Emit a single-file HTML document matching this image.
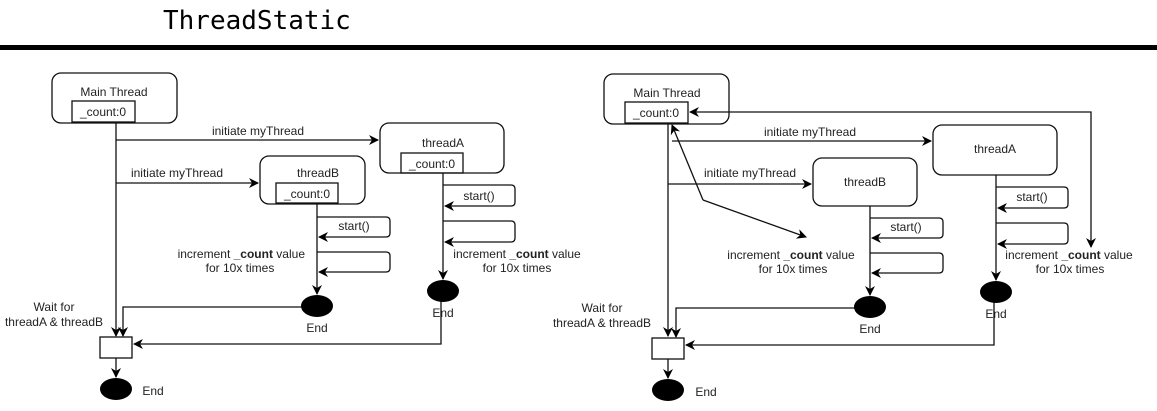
<!DOCTYPE html>
<html><head><meta charset="utf-8"><style>
body{margin:0;background:#fff;width:1157px;height:411px;overflow:hidden}
svg{display:block}
text{font-family:"Liberation Sans",sans-serif;font-size:12px;fill:#222}
</style></head><body>
<svg width="1157" height="411" viewBox="0 0 1157 411">
<defs>
<marker id="a" markerWidth="10" markerHeight="10" refX="9" refY="5" orient="auto-start-reverse" markerUnits="userSpaceOnUse">
<path d="M0,0 L10,5 L0,10 L3,5 z" fill="#000"/></marker>
</defs>
<text x="163" y="29" style="font-family:'DejaVu Sans Mono','Liberation Mono',monospace;font-size:26px;fill:#000">ThreadStatic</text>
<rect x="0" y="45" width="1157" height="5" fill="#000"/>

<g id="L" stroke="#111" stroke-width="1.3" fill="none">
<rect x="52" y="73" width="125" height="50" rx="9"/>
<rect x="72" y="101" width="63" height="21"/>
<rect x="380" y="123" width="124" height="50" rx="9"/>
<rect x="401" y="153" width="62" height="20"/>
<rect x="260" y="156" width="105" height="48" rx="9"/>
<rect x="276" y="183" width="62" height="20"/>
<path d="M116 123 V336" marker-end="url(#a)"/>
<path d="M116 140 H378" marker-end="url(#a)"/>
<path d="M116 183 H258" marker-end="url(#a)"/>
<path d="M317 204 V294" marker-end="url(#a)"/>
<path d="M317 217 H386 Q390 217 390 221 V233 Q390 237 386 237 H319" marker-end="url(#a)"/>
<path d="M317 252 H386 Q390 252 390 256 V268 Q390 272 386 272 H319" marker-end="url(#a)"/>
<path d="M443 173 V279" marker-end="url(#a)"/>
<path d="M443 185 H511 Q515 185 515 189 V202 Q515 206 511 206 H445" marker-end="url(#a)"/>
<path d="M443 221 H511 Q515 221 515 225 V238 Q515 242 511 242 H445" marker-end="url(#a)"/>
<path d="M302 307 H123 V336" marker-end="url(#a)"/>
<path d="M441 300 V344 H134" marker-end="url(#a)"/>
<rect x="100" y="337" width="32" height="21"/>
<path d="M116 358 V377" marker-end="url(#a)"/>
</g>
<g fill="#000">
<ellipse cx="317" cy="306" rx="16" ry="11"/>
<ellipse cx="443" cy="291" rx="16" ry="11"/>
<ellipse cx="116" cy="389" rx="16" ry="11"/>
</g>
<g text-anchor="middle">
<text x="114" y="96">Main Thread</text>
<text x="103" y="116">_count:0</text>
<text x="443" y="147">threadA</text>
<text x="432" y="168">_count:0</text>
<text x="318" y="177">threadB</text>
<text x="307" y="198">_count:0</text>
<text x="258" y="135">initiate myThread</text>
<text x="177" y="177">initiate myThread</text>
<text x="354" y="230">start()</text>
<text x="479" y="200">start()</text>
<text x="240" y="272">for 10x times</text>
<text x="517" y="258">increment <tspan font-weight="bold">_count</tspan> value</text>
<text x="517" y="272">for 10x times</text>
<text x="317" y="332">End</text>
<text x="443" y="317">End</text>
<text x="54" y="311">Wait for</text>
<text x="54" y="326">threadA &amp; threadB</text>
<text x="153" y="395">End</text>
</g>
<text x="305" y="258" text-anchor="end">increment <tspan font-weight="bold">_count</tspan> value</text>

<g stroke="#111" stroke-width="1.3" fill="none">
<rect x="604" y="74" width="125" height="50" rx="9"/>
<rect x="625" y="102" width="63" height="21"/>
<rect x="933" y="125" width="124" height="50" rx="9"/>
<rect x="813" y="158" width="104" height="48" rx="9"/>
<path d="M668 123 V336" marker-end="url(#a)"/>
<path d="M672 141 H931" marker-end="url(#a)"/>
<path d="M668 184 H811" marker-end="url(#a)"/>
<path d="M1091 247 V112 H690" marker-start="url(#a)" marker-end="url(#a)"/>
<path d="M703 200 L672 125" marker-end="url(#a)"/>
<path d="M703 200 L806 237" marker-end="url(#a)"/>
<path d="M870 206 V295" marker-end="url(#a)"/>
<path d="M870 218 H939 Q943 218 943 222 V234 Q943 238 939 238 H872" marker-end="url(#a)"/>
<path d="M870 253 H939 Q943 253 943 257 V269 Q943 273 939 273 H872" marker-end="url(#a)"/>
<path d="M996 175 V280" marker-end="url(#a)"/>
<path d="M996 187 H1064 Q1068 187 1068 191 V204 Q1068 208 1064 208 H998" marker-end="url(#a)"/>
<path d="M996 223 H1064 Q1068 223 1068 227 V240 Q1068 244 1064 244 H998" marker-end="url(#a)"/>
<path d="M855 308 H676 V337" marker-end="url(#a)"/>
<path d="M994 301 V345 H686" marker-end="url(#a)"/>
<rect x="652" y="338" width="32" height="21"/>
<path d="M668 359 V378" marker-end="url(#a)"/>
</g>
<g fill="#000">
<ellipse cx="870" cy="307" rx="16" ry="11"/>
<ellipse cx="996" cy="292" rx="16" ry="11"/>
<ellipse cx="668" cy="390" rx="16" ry="11"/>
</g>
<g text-anchor="middle">
<text x="667" y="97">Main Thread</text>
<text x="656" y="117">_count:0</text>
<text x="995" y="153">threadA</text>
<text x="865" y="186">threadB</text>
<text x="810" y="136">initiate myThread</text>
<text x="750" y="177">initiate myThread</text>
<text x="906" y="231">start()</text>
<text x="1032" y="201">start()</text>
<text x="791" y="259">increment <tspan font-weight="bold">_count</tspan> value</text>
<text x="793" y="273">for 10x times</text>
<text x="1069" y="259">increment <tspan font-weight="bold">_count</tspan> value</text>
<text x="1070" y="273">for 10x times</text>
<text x="870" y="333">End</text>
<text x="996" y="318">End</text>
<text x="602" y="312">Wait for</text>
<text x="602" y="327">threadA &amp; threadB</text>
<text x="706" y="396">End</text>
</g>
</svg>
</body></html>
